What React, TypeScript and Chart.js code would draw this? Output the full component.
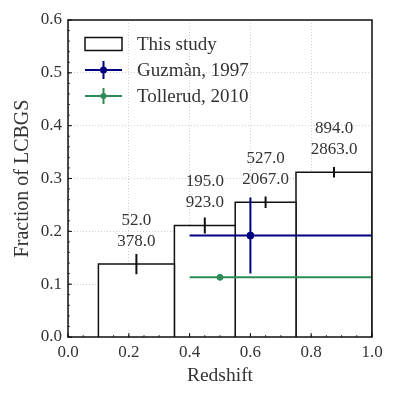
import React, { useEffect, useRef } from "react";
import { Chart, registerables } from "chart.js";

Chart.register(...registerables);

// ---- data ----
const binEdges = [0.1, 0.35, 0.55, 0.75, 1.0];
const binCenters = [0.225, 0.45, 0.65, 0.875];
const lcbgCounts = [52, 195, 527, 894];
const totalCounts = [378, 923, 2067, 2863];
const fractions = [0.138, 0.211, 0.255, 0.312];
const fractionErrors = [0.019, 0.015, 0.011, 0.01];

const guzmanX = 0.6;
const guzmanY = 0.192;
const guzmanXLow = 0.4;
const guzmanXHigh = 1.0;
const guzmanYErr = 0.072;

const tollerudX = 0.5;
const tollerudY = 0.113;
const tollerudXLow = 0.4;
const tollerudXHigh = 1.0;
const tollerudYErr = 0.004;

const xMajorTicks = [0, 0.2, 0.4, 0.6, 0.8, 1.0];
const yMajorTicks = [0, 0.1, 0.2, 0.3, 0.4, 0.5, 0.6];
const xMinorStep = 0.05;
const yMinorStep = 0.02;

const legendLabels = ["This study", "Guzmàn, 1997", "Tollerud, 2010"];

const NAVY = "#000080";
const GREEN = "#2e8b57";
const TEXT = "#333333";
const FONT = "'Liberation Serif', 'Times New Roman', serif";

export default function App() {
  const ref = useRef<HTMLCanvasElement>(null);

  useEffect(() => {
    if (!ref.current) return;

    const barSets = fractions.map((f, i) => ({
      label: "bin" + i,
      data: [
        { x: binEdges[i], y: 0 },
        { x: binEdges[i], y: f },
        { x: binEdges[i + 1], y: f },
        { x: binEdges[i + 1], y: 0 },
      ],
      borderColor: "#111",
      borderWidth: 1.5,
      backgroundColor: "#ffffff",
      fill: "origin",
      pointRadius: 0,
      tension: 0,
      order: 10,
    }));

    const errData: any[] = [];
    fractions.forEach((f, i) => {
      errData.push({ x: binCenters[i], y: f - fractionErrors[i] });
      errData.push({ x: binCenters[i], y: f + fractionErrors[i] });
      errData.push({ x: binCenters[i], y: null });
    });

    const datasets: any[] = [
      ...barSets,
      {
        label: "errors",
        data: errData,
        borderColor: "#111",
        borderWidth: 2,
        pointRadius: 0,
        spanGaps: false,
        fill: false,
        order: 5,
      },
      {
        label: "guzman-err",
        data: [
          { x: guzmanXLow, y: guzmanY },
          { x: guzmanXHigh, y: guzmanY },
          { x: guzmanX, y: null },
          { x: guzmanX, y: guzmanY - guzmanYErr },
          { x: guzmanX, y: guzmanY + guzmanYErr },
        ],
        borderColor: NAVY,
        borderWidth: 2,
        pointRadius: 0,
        spanGaps: false,
        fill: false,
        order: 2,
      },
      {
        label: "guzman",
        data: [{ x: guzmanX, y: guzmanY }],
        borderColor: NAVY,
        backgroundColor: NAVY,
        pointRadius: 3.5,
        showLine: false,
        order: 1,
      },
      {
        label: "tollerud-err",
        data: [
          { x: tollerudXLow, y: tollerudY },
          { x: tollerudXHigh, y: tollerudY },
          { x: tollerudX, y: null },
          { x: tollerudX, y: tollerudY - tollerudYErr },
          { x: tollerudX, y: tollerudY + tollerudYErr },
        ],
        borderColor: GREEN,
        borderWidth: 2,
        pointRadius: 0,
        spanGaps: false,
        fill: false,
        order: 3,
      },
      {
        label: "tollerud",
        data: [{ x: tollerudX, y: tollerudY }],
        borderColor: GREEN,
        backgroundColor: GREEN,
        pointRadius: 3,
        showLine: false,
        order: 1,
      },
    ];

    const annotations = {
      id: "annotations",
      afterDatasetsDraw(chart: any) {
        const { ctx, scales } = chart;
        ctx.save();
        ctx.fillStyle = TEXT;
        ctx.font = "17px " + FONT;
        ctx.textAlign = "center";
        ctx.textBaseline = "middle";
        fractions.forEach((f, i) => {
          const x = scales.x.getPixelForValue(binCenters[i]);
          ctx.fillText(lcbgCounts[i].toFixed(1), x, scales.y.getPixelForValue(f + 0.083));
          ctx.fillText(totalCounts[i].toFixed(1), x, scales.y.getPixelForValue(f + 0.043));
        });
        ctx.restore();
      },
    };

    const frame = {
      id: "frame",
      afterDraw(chart: any) {
        const { ctx, chartArea: a, scales } = chart;
        ctx.save();
        ctx.strokeStyle = "#111";
        ctx.lineWidth = 1;
        // major ticks inward
        ctx.beginPath();
        xMajorTicks.forEach((v) => {
          const px = scales.x.getPixelForValue(v);
          ctx.moveTo(px, a.bottom);
          ctx.lineTo(px, a.bottom - 4);
        });
        yMajorTicks.forEach((v) => {
          const py = scales.y.getPixelForValue(v);
          ctx.moveTo(a.left, py);
          ctx.lineTo(a.left + 4, py);
        });
        ctx.stroke();
        ctx.lineWidth = 0.8;
        ctx.beginPath();
        for (let k = 0; k <= Math.round(1 / xMinorStep); k++) {
          const px = scales.x.getPixelForValue(k * xMinorStep);
          ctx.moveTo(px, a.bottom);
          ctx.lineTo(px, a.bottom - 2);
        }
        for (let k = 0; k <= Math.round(0.6 / yMinorStep); k++) {
          const py = scales.y.getPixelForValue(k * yMinorStep);
          ctx.moveTo(a.left, py);
          ctx.lineTo(a.left + 2, py);
        }
        ctx.stroke();
        ctx.lineWidth = 1.5;
        ctx.strokeRect(a.left, a.top, a.right - a.left, a.bottom - a.top);

        // legend
        const sx0 = 85;
        const sx1 = 122;
        const mid = (sx0 + sx1) / 2;
        const tx = 137;
        const rows = [44, 70, 96];
        ctx.lineWidth = 1.5;
        ctx.strokeStyle = "#111";
        ctx.fillStyle = "#fff";
        ctx.fillRect(sx0, rows[0] - 6.5, sx1 - sx0, 13);
        ctx.strokeRect(sx0, rows[0] - 6.5, sx1 - sx0, 13);
        const drawErr = (y: number, color: string, r: number, h: number) => {
          ctx.strokeStyle = color;
          ctx.fillStyle = color;
          ctx.lineWidth = 2;
          ctx.beginPath();
          ctx.moveTo(sx0, y);
          ctx.lineTo(sx1, y);
          ctx.moveTo(mid, y - h);
          ctx.lineTo(mid, y + h);
          ctx.stroke();
          ctx.beginPath();
          ctx.arc(mid, y, r, 0, Math.PI * 2);
          ctx.fill();
        };
        drawErr(rows[1], NAVY, 3.5, 9);
        drawErr(rows[2], GREEN, 3, 8);
        ctx.fillStyle = TEXT;
        ctx.font = "19px " + FONT;
        ctx.textAlign = "left";
        ctx.textBaseline = "middle";
        legendLabels.forEach((t, i) => ctx.fillText(t, tx, rows[i] + 1));
        ctx.restore();
      },
    };

    const chart = new Chart(ref.current, {
      type: "line",
      data: { datasets },
      options: {
        animation: false,
        responsive: false,
        devicePixelRatio: 1,
        layout: { padding: { top: 20, right: 27, left: 0, bottom: 0 } },
        plugins: { legend: { display: false }, tooltip: { enabled: false } },
        elements: { line: { tension: 0 } },
        scales: {
          x: {
            type: "linear",
            min: 0,
            max: 1,
            afterFit: (s: any) => {
              s.height = 62;
            },
            afterBuildTicks: (s: any) => {
              s.ticks = xMajorTicks.map((v) => ({ value: v }));
            },
            ticks: {
              padding: 5,
              color: TEXT,
              font: { family: FONT, size: 17 },
              callback: (v: any) => Number(v).toFixed(1),
            },
            grid: { color: "#c4c4c4", lineWidth: 0.8, drawTicks: false },
            border: { display: false, dash: [1, 2] },
            title: {
              display: true,
              text: "Redshift",
              color: TEXT,
              font: { family: FONT, size: 19.5 },
              padding: { top: 0, bottom: 11 },
            },
          },
          y: {
            type: "linear",
            min: 0,
            max: 0.6,
            afterFit: (s: any) => {
              s.width = 68;
            },
            afterBuildTicks: (s: any) => {
              s.ticks = yMajorTicks.map((v) => ({ value: v }));
            },
            ticks: {
              padding: 6,
              color: TEXT,
              font: { family: FONT, size: 17 },
              callback: (v: any) => Number(v).toFixed(1),
            },
            grid: { color: "#c4c4c4", lineWidth: 0.8, drawTicks: false },
            border: { display: false, dash: [1, 2] },
            title: {
              display: true,
              text: "Fraction of LCBGS",
              color: TEXT,
              font: { family: FONT, size: 20 },
              padding: { top: 11, bottom: 0 },
            },
          },
        },
      },
      plugins: [annotations, frame],
    } as any);

    return () => chart.destroy();
  }, []);

  return (
    <div style={{ position: "absolute", left: 0, top: 0, width: 399, height: 399, background: "#fff" }}>
      <canvas ref={ref} width={399} height={399} style={{ display: "block" }} />
    </div>
  );
}
